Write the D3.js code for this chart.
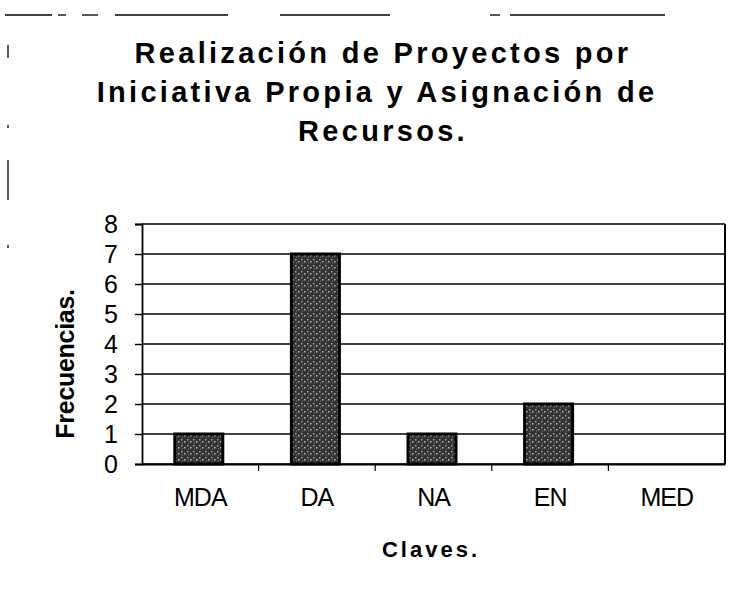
<!DOCTYPE html>
<html><head><meta charset="utf-8">
<script src="https://cdn.jsdelivr.net/npm/d3@7"></script>
<style>body{margin:0;background:#fff}svg{display:block}</style>
</head><body>
<script>
const categories = ["MDA","DA","NA","EN","MED"];
const values = [1,7,1,2,0];
const yTicks = [0,1,2,3,4,5,6,7,8];
const titleLines = ["Realización de Proyectos por","Iniciativa Propia y Asignación de","Recursos."];
const xTitle = "Claves.";
const yTitle = "Frecuencias.";

const W=740,H=603;
const m={left:142,right:15,top:224,bottom:139};
const svg=d3.select("body").append("svg").attr("width",W).attr("height",H);
const font="'Liberation Sans', Arial, sans-serif";

// scan artifacts at top / left
const deco=svg.append("g").attr("stroke","#000").attr("stroke-width",1.3);
[[5,52],[58,66],[82,98],[115,228],[280,390],[490,500],[510,665]].forEach(s=>deco.append("line").attr("x1",s[0]).attr("x2",s[1]).attr("y1",15).attr("y2",15));
[[45,58],[125,128],[160,200],[245,248]].forEach(s=>deco.append("line").attr("x1",8).attr("x2",8).attr("y1",s[0]).attr("y2",s[1]));

const x=d3.scaleBand().domain(categories).range([m.left,W-m.right]);
const y=d3.scaleLinear().domain([0,8]).range([H-m.bottom,m.top]);

// title
svg.append("g").selectAll("text").data(titleLines).join("text")
 .attr("x",(d,i)=>i===1?377:383).attr("y",(d,i)=>63+i*39).attr("text-anchor","middle")
 .attr("font-family",font).attr("font-weight","bold").attr("font-size",29).attr("letter-spacing",3.3)
 .text(d=>d);

// gridlines
svg.append("g").selectAll("line").data(yTicks).join("line")
 .attr("x1",m.left).attr("x2",W-m.right).attr("y1",d=>y(d)).attr("y2",d=>y(d))
 .attr("stroke","#000").attr("stroke-width",1.4);

// y axis
const ya=svg.append("g").attr("transform",`translate(${m.left},0)`)
 .call(d3.axisLeft(y).tickValues(yTicks).tickSize(7).tickPadding(17).tickFormat(d3.format("d")));
ya.select(".domain").attr("stroke-width",1.8);
ya.selectAll("line").attr("stroke-width",1.4);
ya.selectAll("text").attr("font-family",font).attr("font-size",25).attr("fill","#000");

// right frame
svg.append("line").attr("x1",W-m.right).attr("x2",W-m.right).attr("y1",m.top).attr("y2",H-m.bottom).attr("stroke","#000").attr("stroke-width",2);

// x axis
const xa=svg.append("g").attr("transform",`translate(0,${H-m.bottom})`)
 .call(d3.axisBottom(x).tickSize(0).tickPadding(24));
xa.select(".domain").attr("stroke-width",2);
xa.selectAll("text").attr("font-family",font).attr("font-size",25).attr("letter-spacing",-1).attr("fill","#000");
svg.append("g").selectAll("line").data(categories.slice(1)).join("line")
 .attr("x1",d=>x(d)).attr("x2",d=>x(d)).attr("y1",H-m.bottom).attr("y2",H-m.bottom+7)
 .attr("stroke","#000").attr("stroke-width",1.2);

// pattern
const defs=svg.append("defs");
const pat=defs.append("pattern").attr("id","stip").attr("width",6).attr("height",6).attr("patternUnits","userSpaceOnUse");
pat.append("rect").attr("width",6).attr("height",6).attr("fill","#333");
pat.append("rect").attr("x",1).attr("y",1).attr("width",1.5).attr("height",1.5).attr("fill","#a0a0a0");
pat.append("rect").attr("x",4).attr("y",3).attr("width",1.5).attr("height",1.5).attr("fill","#c0c0c0");
pat.append("rect").attr("x",2).attr("y",4.5).attr("width",1).attr("height",1).attr("fill","#888");

// bars
const bw=48;
svg.append("g").selectAll("rect").data(values.map((v,i)=>({c:categories[i],v})).filter(d=>d.v>0)).join("rect")
 .attr("x",d=>x(d.c)+x.bandwidth()/2-bw/2-1.5).attr("width",bw)
 .attr("y",d=>y(d.v)).attr("height",d=>y(0)-y(d.v))
 .attr("fill","url(#stip)").attr("stroke","#000").attr("stroke-width",3);

// axis titles
svg.append("text").attr("x",431).attr("y",557).attr("text-anchor","middle")
 .attr("font-family",font).attr("font-weight","bold").attr("font-size",22).attr("letter-spacing",3).text(xTitle);
svg.append("text").attr("transform","translate(74,364) rotate(-90)").attr("text-anchor","middle")
 .attr("font-family",font).attr("font-weight","bold").attr("font-size",25).attr("letter-spacing",-0.3).text(yTitle);
</script>
</body></html>
